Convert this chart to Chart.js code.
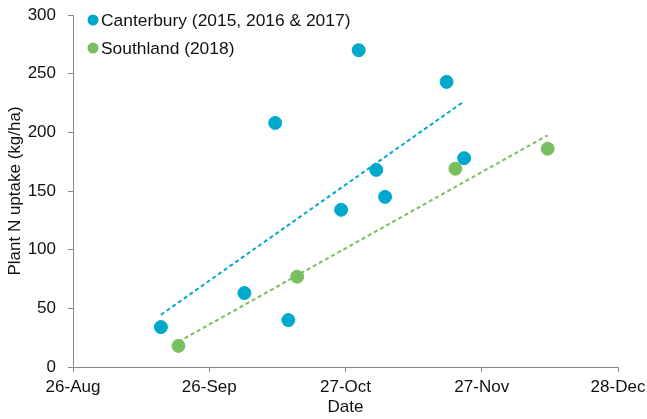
<!DOCTYPE html>
<html>
<head>
<meta charset="utf-8">
<script src="https://cdn.jsdelivr.net/npm/chart.js@4/dist/chart.umd.min.js"></script>
<style>
  html, body { margin: 0; padding: 0; background: #fff; }
  #wrap { width: 647px; height: 419px; }
</style>
</head>
<body>
<div id="wrap"><canvas id="nChart" width="647" height="419"></canvas></div>
<script>
// sampling dates (day-month) and plant N uptake (kg/ha)
const canterburyDates = ["15-Sep","4-Oct","11-Oct","14-Oct","26-Oct","30-Oct","3-Nov","5-Nov","19-Nov","23-Nov"];
const canterburyUptake = [34, 63, 208, 40, 134, 270, 168, 145, 243, 178];

const southlandDates = ["19-Sep","16-Oct","21-Nov","12-Dec"];
const southlandUptake = [18, 77, 169, 186];

// linear trend end points as drawn
const canterburyTrendDates = ["15-Sep","23-Nov"];
const canterburyTrend = [44.5, 226.5];
const southlandTrendDates = ["19-Sep","12-Dec"];
const southlandTrend = [21.5, 197.5];

const xTickLabels = ["26-Aug","26-Sep","27-Oct","27-Nov","28-Dec"];
const yTicks = [0, 50, 100, 150, 200, 250, 300];

const BLUE = "#00A9CB";
const GREEN = "#78BF5E";
const TEXT = "#111";
const AXIS = "#8a8a8a";

const months = {Aug:7, Sep:8, Oct:9, Nov:10, Dec:11};
function dayNum(s){
    const [d, m] = s.split("-");
    return (Date.UTC(2017, months[m], +d) - Date.UTC(2017, 7, 26)) / 86400000;
}
function pts(dates, vals){
    return dates.map((d, i) => ({x: dayNum(d), y: vals[i]}));
}

const insideLegend = {
    id: "insideLegend",
    afterDraw(chart){
        const c = chart.ctx;
        const items = chart.data.datasets.filter(d => !d.isTrend);
        c.save();
        c.font = "17.4px 'Liberation Sans', Arial, sans-serif";
        c.textBaseline = "middle";
        items.forEach((ds, i) => {
            const y = 20 + i * 28;
            c.beginPath();
            c.arc(93, y, 5.5, 0, Math.PI * 2);
            c.fillStyle = ds.backgroundColor;
            c.fill();
            c.fillStyle = TEXT;
            c.fillText(ds.label, 101, y + 1);
        });
        c.restore();
    }
};

Chart.defaults.font.family = "'Liberation Sans', Arial, sans-serif";
Chart.defaults.font.size = 17;
Chart.defaults.color = TEXT;

new Chart(document.getElementById("nChart"), {
    type: "scatter",
    data: {
        datasets: [
            {
                label: "Canterbury (2015, 2016 & 2017)",
                data: pts(canterburyDates, canterburyUptake),
                backgroundColor: BLUE,
                borderColor: BLUE,
                pointRadius: 6.5,
                pointHoverRadius: 6.5,
                order: 1
            },
            {
                label: "Southland (2018)",
                data: pts(southlandDates, southlandUptake),
                backgroundColor: GREEN,
                borderColor: GREEN,
                pointRadius: 6.5,
                pointHoverRadius: 6.5,
                order: 1
            },
            {
                label: "Canterbury trend",
                isTrend: true,
                data: pts(canterburyTrendDates, canterburyTrend),
                showLine: true,
                borderColor: BLUE,
                borderWidth: 2,
                borderDash: [4, 3],
                pointRadius: 0,
                order: 2
            },
            {
                label: "Southland trend",
                isTrend: true,
                data: pts(southlandTrendDates, southlandTrend),
                showLine: true,
                borderColor: GREEN,
                borderWidth: 2,
                borderDash: [4, 3],
                pointRadius: 0,
                order: 2
            }
        ]
    },
    options: {
        responsive: false,
        animation: false,
        layout: { padding: { left: 0, right: 29, top: 15, bottom: 0 } },
        plugins: {
            legend: { display: false },
            tooltip: { enabled: false }
        },
        scales: {
            x: {
                type: "linear",
                min: 0,
                max: 124,
                afterBuildTicks: s => { s.ticks = xTickLabels.map((t, i) => ({value: i * 31})); },
                afterFit: s => { s.height = 52; s.paddingLeft = 0; s.paddingRight = 0; },
                ticks: {
                    autoSkip: false,
                    maxRotation: 0,
                    padding: 5,
                    color: TEXT,
                    callback: (v, i) => xTickLabels[i]
                },
                grid: { drawOnChartArea: false, drawTicks: true, tickLength: 5, color: AXIS },
                border: { color: AXIS, width: 1 },
                title: { display: true, text: "Date", color: TEXT, padding: { top: 0, bottom: 1 } }
            },
            y: {
                min: 0,
                max: 300,
                afterBuildTicks: s => { s.ticks = yTicks.map(v => ({value: v})); },
                afterFit: s => { s.width = 73; s.paddingTop = 0; s.paddingBottom = 0; },
                ticks: { padding: 12, color: TEXT },
                grid: { drawOnChartArea: false, drawTicks: true, tickLength: 5, color: AXIS },
                border: { color: AXIS, width: 1 },
                title: { display: true, text: "Plant N uptake (kg/ha)", color: TEXT, padding: { top: 5, bottom: 0 } }
            }
        }
    },
    plugins: [insideLegend]
});
</script>
</body>
</html>
